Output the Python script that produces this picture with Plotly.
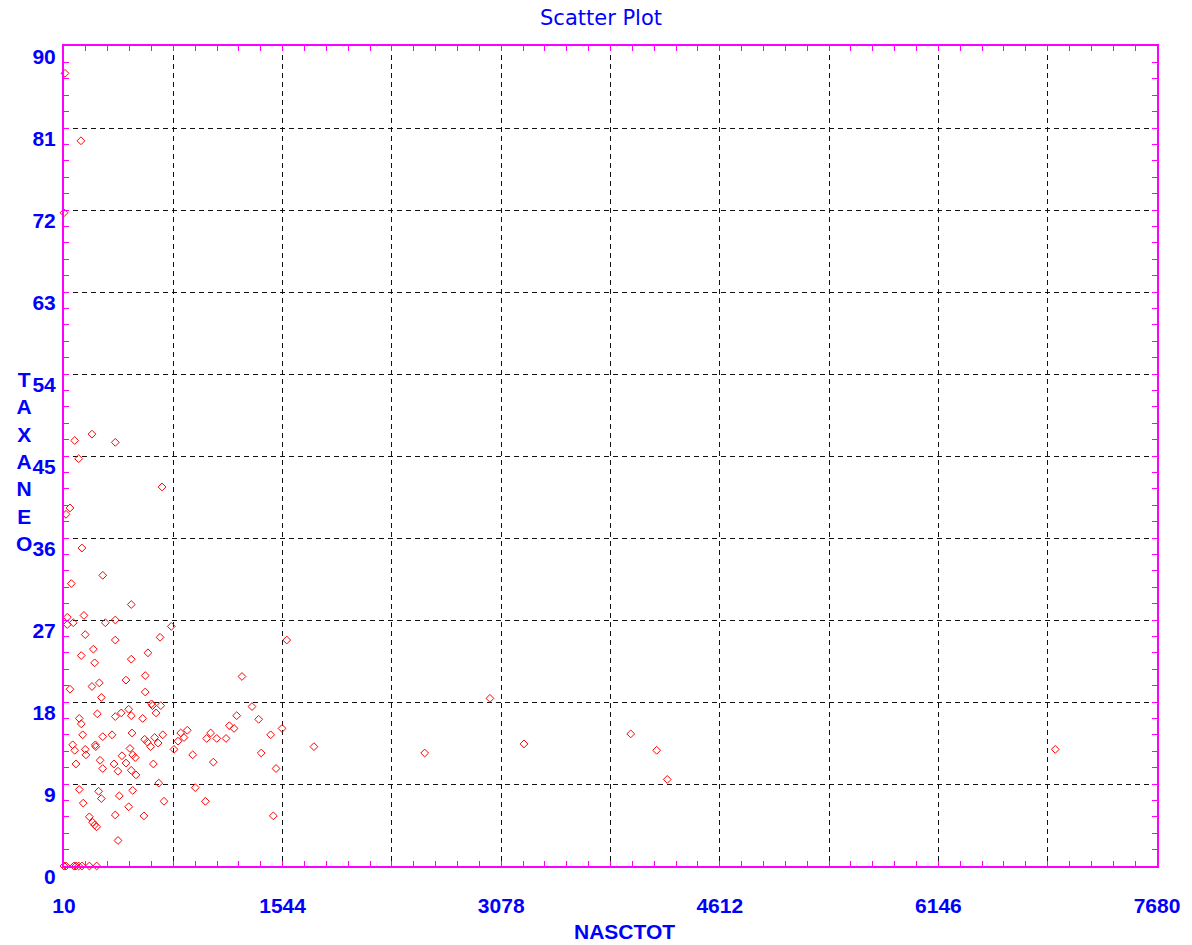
import plotly.graph_objects as go

# NASCTOT (x) and TAXANEO (y) values
nasctot = [17, 129, 10, 85, 206, 370, 113, 698, 52, 24,
           136, 282, 61, 482, 150, 33, 33, 75, 300, 370,
           159, 370, 216, 131, 225, 482, 445, 258, 206, 52,
           272, 464, 412, 482, 244, 370, 117, 131, 141, 282,
           347, 487, 71, 159, 230, 233, 473, 85, 164, 417,
           492, 510, 263, 94, 361, 445, 282, 389, 482, 515,
           117, 253, 272, 398, 492, 145, 464, 370, 188, 211,
           225, 239, 389,
           10, 24, 80, 94, 113, 136, 188, 239,
           763, 684, 599, 1573, 580, 580, 1259, 624, 631, 689,
           656, 562, 1329, 1222, 1376, 1170, 1203, 1540, 1460, 576,
           595, 646, 703, 670, 618, 829, 875, 852, 810, 782,
           1039, 1011, 1082, 1147, 1764, 913, 1394, 637, 1058, 1498,
           675, 931, 712, 1002, 571, 1479,
           2541, 2999, 3238, 3987, 4169, 4243, 6966]

taxaneo = [87.0, 79.6, 71.7, 46.7, 47.4, 46.5, 44.7, 41.6, 39.3, 38.6,
           34.9, 31.9, 31.0, 28.7, 27.5, 27.3, 26.5, 26.7, 26.7, 27.0,
           25.4, 24.8, 23.8, 23.1, 22.3, 22.7, 20.4, 20.1, 19.7, 19.4,
           18.5, 17.2, 16.8, 16.5, 16.7, 16.4, 16.2, 15.6, 14.4, 14.2,
           14.4, 14.6, 13.3, 12.8, 13.3, 13.1, 12.9, 12.7, 12.2, 12.1,
           12.2, 11.9, 11.6, 11.2, 11.2, 11.3, 10.7, 10.4, 10.5, 10.0,
           8.4, 8.2, 7.4, 7.7, 8.3, 6.9, 6.5, 5.6, 5.4, 4.8,
           4.5, 4.3, 2.8,
           0, 0, 0, 0, 0, 0, 0, 0,
           26.3, 25.1, 23.4, 24.8, 20.9, 19.1, 20.8, 17.8, 17.6, 17.6,
           16.8, 16.2, 17.5, 16.5, 16.1, 15.4, 15.1, 15.1, 14.4, 13.9,
           13.6, 14.1, 14.4, 13.5, 13.1, 14.6, 14.9, 14.1, 13.7, 12.8,
           14.6, 14.0, 14.0, 14.0, 13.1, 12.2, 12.4, 11.2, 11.4, 10.7,
           9.1, 8.6, 7.1, 7.1, 5.5, 5.5,
           12.4, 18.4, 13.4, 14.5, 12.7, 9.5, 12.8]

x_tickvals = [10, 777, 1544, 2311, 3078, 3845, 4612, 5379, 6146, 6913, 7680]
x_ticktext = ["10", "", "1544", "", "3078", "", "4612", "", "6146", "", "7680"]
y_tickvals = [0, 9, 18, 27, 36, 45, 54, 63, 72, 81, 90]
y_ticktext = ["0", "9", "18", "27", "36", "45", "54", "63", "72", "81", "90"]

BLUE = "#0000ff"
MAGENTA = "#ff00ff"
TICKFONT = dict(family="Liberation Sans, Arial, sans-serif", size=21, color=BLUE, weight="bold")

fig = go.Figure()
fig.add_trace(go.Scatter(
    x=nasctot, y=taxaneo, mode="markers",
    marker=dict(symbol="diamond-open", size=6, color="#ff0000", line=dict(width=1, color="#ff0000")),
    cliponaxis=False, showlegend=False, hoverinfo="x+y",
))

axis_common = dict(
    showline=True, linecolor=MAGENTA, linewidth=2, mirror="allticks",
    ticks="inside", ticklen=5, tickwidth=1, tickcolor=MAGENTA,
    showgrid=True, gridcolor="#111111", gridwidth=1.3, griddash="5px,4px",
    zeroline=False, tickfont=TICKFONT, fixedrange=True,
)

fig.update_xaxes(
    range=[10, 7680], tickmode="array", tickvals=x_tickvals, ticktext=x_ticktext,
    ticklabelstandoff=20,
    minor=dict(tickmode="linear", tick0=10, dtick=153.4, ticks="inside", ticklen=5,
               tickwidth=1, tickcolor=MAGENTA, showgrid=False),
    **axis_common,
)
fig.update_yaxes(
    range=[0, 90], tickmode="array", tickvals=y_tickvals, ticktext=y_ticktext,
    ticklabelshift=11, ticklabelstandoff=2,
    minor=dict(tickmode="linear", tick0=0, dtick=1.8, ticks="inside", ticklen=5,
               tickwidth=1, tickcolor=MAGENTA, showgrid=False),
    **axis_common,
)

fig.update_layout(
    width=1192, height=945,
    margin=dict(l=64, r=35, t=46, b=79),
    plot_bgcolor="white", paper_bgcolor="white",
    annotations=[
        dict(text="Scatter Plot", xref="paper", yref="paper", x=0.4913, y=1.0341,
             xanchor="center", yanchor="middle", showarrow=False,
             font=dict(family="DejaVu Sans, sans-serif", size=21, color=BLUE)),
        dict(text="NASCTOT", xref="paper", yref="paper", x=0.5124, y=-0.0963,
             xanchor="center", yanchor="bottom", showarrow=False,
             font=dict(family="Liberation Sans, Arial, sans-serif", size=21, color=BLUE, weight="bold")),
        dict(text="T<br>A<br>X<br>A<br>N<br>E<br>O", xref="paper", yref="paper",
             x=-0.0366, y=0.4927, xanchor="center", yanchor="middle", showarrow=False,
             align="center",
             font=dict(family="Liberation Sans, Arial, sans-serif", size=21, color=BLUE, weight="bold")),
    ],
)

fig.write_html("out.html", config={"displayModeBar": False},
               post_script="document.body.style.margin='0';")
